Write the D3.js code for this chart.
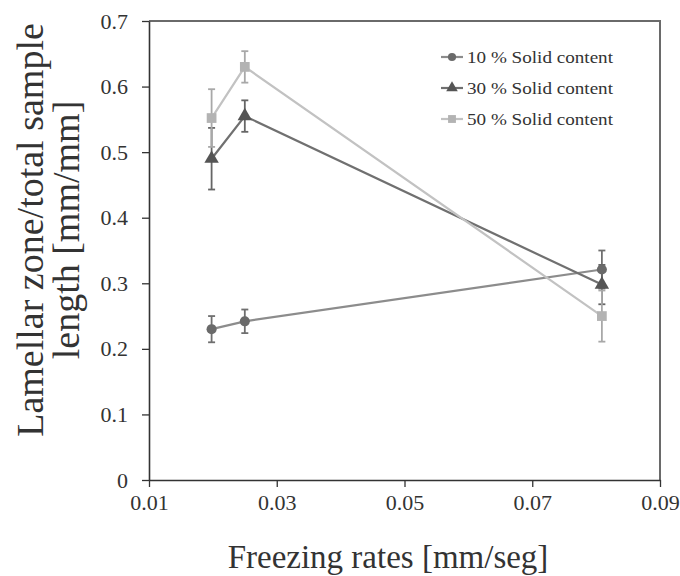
<!DOCTYPE html>
<html>
<head>
<meta charset="utf-8">
<script src="https://cdn.jsdelivr.net/npm/d3@7"></script>
<style>
  html, body { margin: 0; padding: 0; background: #fff; }
  svg { display: block; }
  text { font-family: "Liberation Serif", "DejaVu Serif", serif; fill: #333; }
</style>
</head>
<body>
<svg id="chart" width="680" height="576"></svg>
<script>
// Freezing rate (mm/seg) for each sample group
const rates = [0.0198, 0.0250, 0.0809];

// Lamellar zone / total sample length, with error bars
const solid10 = [0.230, 0.242, 0.321];
const err10   = [0.020, 0.018, 0.029];
const solid30 = [0.490, 0.555, 0.298];
const err30   = [0.047, 0.024, 0.030];
const solid50 = [0.552, 0.630, 0.250];
const err50   = [0.044, 0.024, 0.039];

const seriesNames = ["10 % Solid content", "30 % Solid content", "50 % Solid content"];
const xTicks = [0.01, 0.03, 0.05, 0.07, 0.09];
const yTicks = [0, 0.1, 0.2, 0.3, 0.4, 0.5, 0.6, 0.7];

const series = [
  { name: seriesNames[0], values: solid10, errors: err10, line: "#8c8c8c", mark: "#6a6a6a", bar: "#6f6f6f", shape: d3.symbolCircle, size: 80 },
  { name: seriesNames[1], values: solid30, errors: err30, line: "#707070", mark: "#555555", bar: "#666666", shape: d3.symbolTriangle, size: 90 },
  { name: seriesNames[2], values: solid50, errors: err50, line: "#c2c2c2", mark: "#b3b3b3", bar: "#a8a8a8", shape: d3.symbolSquare, size: 95 }
];

const svg = d3.select("#chart");
const plotLeft = 149, plotRight = 660, plotTop = 21, plotBottom = 480;

const x = d3.scaleLinear().domain([0.01, 0.09]).range([plotLeft, plotRight]);
const y = d3.scaleLinear().domain([0, 0.7]).range([plotBottom, plotTop]);

// frame: top and right edges
svg.append("path")
  .attr("d", `M${plotLeft},${plotTop}H${plotRight}V${plotBottom}`)
  .attr("fill", "none").attr("stroke", "#6a6a6a").attr("stroke-width", 2);

// axes
const xAxis = svg.append("g").attr("transform", `translate(0,${plotBottom})`)
  .call(d3.axisBottom(x).tickValues(xTicks).tickFormat(d3.format(".2f")).tickSize(7).tickSizeOuter(0));
const yAxis = svg.append("g").attr("transform", `translate(${plotLeft},0)`)
  .call(d3.axisLeft(y).tickValues(yTicks).tickFormat(d => d === 0 ? "0" : d3.format(".1f")(d)).tickSize(7).tickSizeOuter(0));

[xAxis, yAxis].forEach(g => {
  g.select(".domain").attr("stroke", "#333").attr("stroke-width", 1.6);
  g.selectAll(".tick line").attr("stroke", "#333").attr("stroke-width", 1.3);
  g.selectAll(".tick text")
    .attr("font-family", "Liberation Serif, serif")
    .attr("font-size", 22).attr("fill", "#3a3a3a");
});
xAxis.selectAll(".tick text").attr("dy", "0.71em").attr("y", 14);
yAxis.selectAll(".tick text").attr("x", -21);

// series lines
const line = d3.line().x((d, i) => x(rates[i])).y(d => y(d));
series.forEach(s => {
  svg.append("path").datum(s.values)
    .attr("d", line).attr("fill", "none")
    .attr("stroke", s.line).attr("stroke-width", 2.2);
});

// error bars
series.forEach(s => {
  const g = svg.append("g").attr("stroke", s.bar).attr("stroke-width", 1.8);
  s.values.forEach((v, i) => {
    const cx = x(rates[i]);
    const y0 = y(v - s.errors[i]), y1 = y(v + s.errors[i]);
    g.append("line").attr("x1", cx).attr("x2", cx).attr("y1", y0).attr("y2", y1);
    g.append("line").attr("x1", cx - 3.5).attr("x2", cx + 3.5).attr("y1", y0).attr("y2", y0);
    g.append("line").attr("x1", cx - 3.5).attr("x2", cx + 3.5).attr("y1", y1).attr("y2", y1);
  });
});

// markers
series.forEach(s => {
  svg.append("g").selectAll("path").data(s.values).join("path")
    .attr("transform", (d, i) => `translate(${x(rates[i])},${y(d)})`)
    .attr("d", d3.symbol().type(s.shape).size(s.size))
    .attr("fill", s.mark);
});

// legend
const legend = svg.append("g");
series.forEach((s, i) => {
  const ly = 57 + i * 31;
  legend.append("line").attr("x1", 441).attr("x2", 463).attr("y1", ly).attr("y2", ly)
    .attr("stroke", s.line).attr("stroke-width", 2.2);
  legend.append("path").attr("transform", `translate(452,${ly})`)
    .attr("d", d3.symbol().type(s.shape).size(s.size * 0.65)).attr("fill", s.mark);
  legend.append("text").attr("x", 467).attr("y", ly + 6)
    .attr("font-size", 17).attr("textLength", 146).attr("lengthAdjust", "spacingAndGlyphs")
    .attr("fill", "#333").text(s.name);
});

// axis titles
svg.append("text").attr("x", 388).attr("y", 568).attr("text-anchor", "middle")
  .attr("font-size", 33).text("Freezing rates [mm/seg]");

const yt = svg.append("text").attr("transform", "translate(0,230) rotate(-90)")
  .attr("text-anchor", "middle").attr("font-size", 38);
yt.append("tspan").attr("x", 0).attr("y", 43).text("Lamellar zone/total sample");
yt.append("tspan").attr("x", 0).attr("y", 79).text("length [mm/mm]");
</script>
</body>
</html>
